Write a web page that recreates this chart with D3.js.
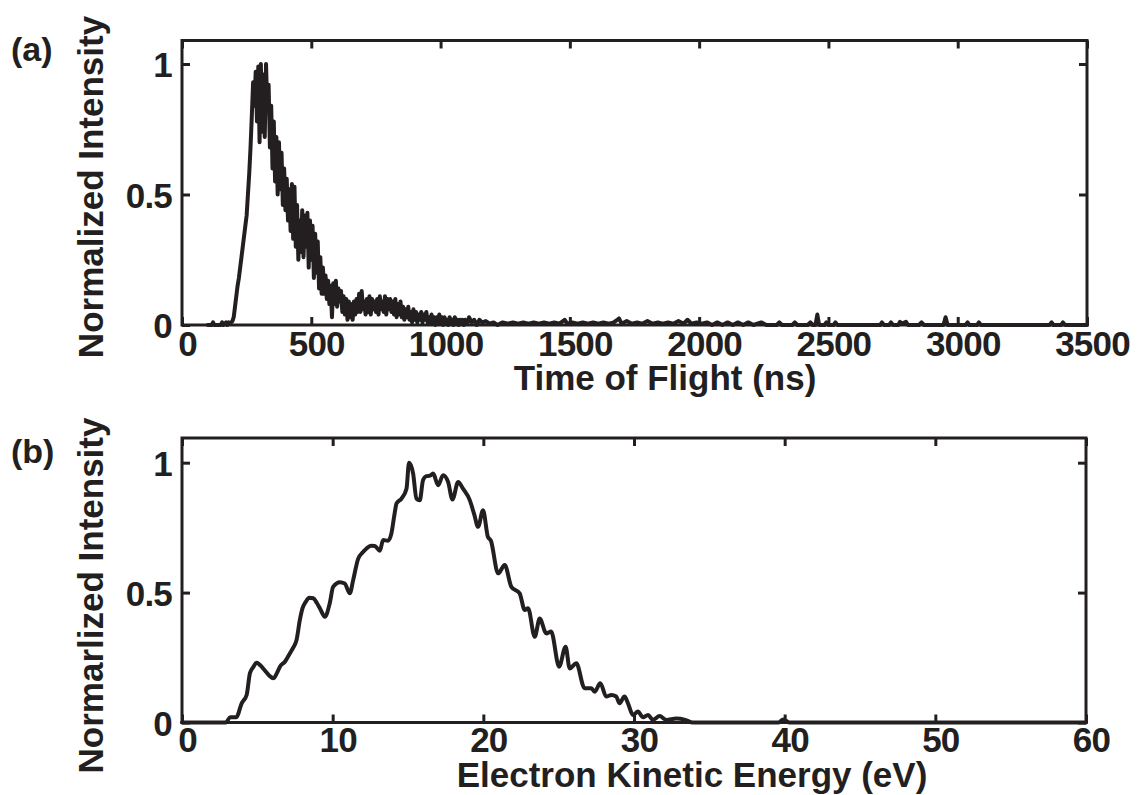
<!DOCTYPE html>
<html>
<head>
<meta charset="utf-8">
<script src="https://cdn.jsdelivr.net/npm/d3@7"></script>
<style>
  html, body { margin: 0; padding: 0; background: #fff; }
  svg { display: block; }
</style>
</head>
<body>
<svg id="fig" width="1141" height="795"></svg>
<script>
// ---- (a) time-of-flight spectrum ----
// 5 ns histogram bins starting at 100 ns
const tofBinStart = 100;
const tofBinWidth = 5;
const tofCounts = [
  0, 0, 0, 0, 0.01, 0, 0, 0, 0, 0,
  0, 0.01, 0, 0.005, 0.01, 0, 0.01, 0.005, 0.01, 0.015,
  0.03, 0.07, 0.11, 0.15, 0.18, 0.22, 0.26, 0.3, 0.34, 0.38,
  0.42, 0.5, 0.58, 0.68, 0.8, 0.93, 0.84, 0.97, 0.78, 0.99,
  0.7, 1.0, 0.74, 0.96, 0.72, 1.0, 0.82, 0.92, 0.68, 0.84,
  0.6, 0.78, 0.55, 0.72, 0.5, 0.7, 0.52, 0.66, 0.46, 0.6,
  0.44, 0.56, 0.4, 0.52, 0.36, 0.54, 0.33, 0.53, 0.3, 0.46,
  0.25, 0.4, 0.28, 0.44, 0.26, 0.42, 0.3, 0.43, 0.22, 0.4,
  0.25, 0.38, 0.18, 0.35, 0.2, 0.32, 0.14, 0.26, 0.12, 0.22,
  0.12, 0.19, 0.1, 0.17, 0.08, 0.15, 0.03, 0.16, 0.08, 0.17,
  0.07, 0.14, 0.09, 0.13, 0.05, 0.11, 0.04, 0.1, 0.02, 0.09,
  0.03, 0.08, 0.02, 0.09, 0.04, 0.1, 0.05, 0.12, 0.05, 0.13,
  0.06, 0.09, 0.04, 0.1, 0.05, 0.11, 0.04, 0.1, 0.06, 0.09,
  0.05, 0.1, 0.04, 0.11, 0.06, 0.09, 0.05, 0.11, 0.04, 0.1,
  0.06, 0.1, 0.05, 0.09, 0.04, 0.1, 0.03, 0.08, 0.04, 0.09,
  0.03, 0.07, 0.02, 0.06, 0.03, 0.07, 0.02, 0.05, 0.01, 0.06,
  0.02, 0.05, 0.01, 0.04, 0.02, 0.05, 0.01, 0.04, 0.02, 0.05,
  0.01, 0.03, 0.01, 0.04, 0.01, 0.03, 0.0, 0.03, 0.01, 0.04,
  0.01, 0.03, 0.0, 0.03, 0.01, 0.02, 0.0, 0.03, 0.01, 0.02,
  0.0, 0.03, 0.01, 0.02, 0.0, 0.02, 0.01, 0.02, 0.0, 0.02,
  0.01
];
// sparse long-time tail: [time (ns), intensity]
const tofTail = [
  [1105,0.01],[1110,0.03],[1120,0.01],[1130,0.02],[1140,0.0],[1150,0.02],[1160,0.01],
  [1175,0.015],[1190,0.005],[1205,0.01],[1220,0.0],[1240,0.01],[1260,0.005],[1280,0.01],
  [1300,0.005],[1320,0.01],[1340,0.005],[1360,0.01],[1380,0.005],[1400,0.01],[1420,0.005],
  [1440,0.01],[1460,0.005],[1480,0.02],[1490,0.005],[1510,0.01],[1530,0.005],[1550,0.01],
  [1570,0.005],[1590,0.01],[1610,0.005],[1630,0.01],[1650,0.005],[1670,0.01],[1690,0.025],
  [1700,0.005],[1720,0.015],[1740,0.005],[1760,0.01],[1780,0.005],[1800,0.015],[1820,0.005],
  [1840,0.01],[1860,0.005],[1880,0.01],[1900,0.005],[1920,0.015],[1940,0.005],[1955,0.02],
  [1970,0.005],[1990,0.01],[2010,0.005],[2030,0.01],[2050,0],[2070,0.01],[2090,0],
  [2110,0.01],[2130,0],[2150,0.01],[2170,0],[2190,0.01],[2210,0],[2240,0.01],[2260,0],
  [2300,0],[2310,0.01],[2320,0],[2360,0],[2370,0.01],[2380,0],[2420,0],[2430,0.01],
  [2440,0],[2450,0],[2457,0.04],[2464,0],[2485,0],[2492,0.01],[2500,0],[2520,0],
  [2527,0.01],[2535,0],[2700,0],[2707,0.01],[2715,0],[2735,0],[2742,0.01],[2750,0],
  [2770,0],[2777,0.012],[2784,0.005],[2800,0.012],[2808,0],[2850,0],[2860,0.01],[2870,0],
  [2945,0],[2953,0.03],[2961,0],[3030,0],[3038,0.01],[3045,0],[3075,0],[3082,0.01],
  [3090,0],[3355,0],[3363,0.01],[3370,0],[3400,0],[3407,0.01],[3415,0],[3500,0]
];
const tofTicks = [0, 500, 1000, 1500, 2000, 2500, 3000, 3500];

// ---- (b) electron kinetic energy spectrum ----
const keEnergy = [
  0, 2.9, 3.2, 3.6, 3.96, 4.29, 4.51, 4.75, 4.95, 5.2,
  5.5, 5.8, 6.06, 6.3, 6.5, 6.83, 7.16, 7.4, 7.6, 7.82,
  8.0, 8.22, 8.45, 8.71, 8.95, 9.15, 9.48, 9.81, 10.03, 10.48,
  10.8, 11.14, 11.36, 11.69, 12.0, 12.25, 12.55, 12.8, 13.13, 13.35,
  13.68, 13.9, 14.1, 14.24, 14.57, 14.9, 15.07, 15.34, 15.56, 15.78,
  16.0, 16.22, 16.45, 16.67, 17.0, 17.33, 17.66, 17.95, 18.33, 18.65,
  19.1, 19.4, 19.65, 19.98, 20.3, 20.5, 20.98, 21.42, 21.86, 22.41,
  22.75, 22.97, 23.41, 23.74, 24.18, 24.5, 25.03, 25.46, 25.73, 26.17,
  26.72, 27.17, 27.39, 27.76, 28.16, 28.5, 28.82, 29.04, 29.37, 29.6,
  29.93, 30.26, 30.6, 30.93, 31.25, 31.7, 32.14, 32.8, 33.4, 33.9,
  39.6, 39.9, 40.3, 60
];
const keIntensity = [
  0, 0, 0.02, 0.02, 0.074, 0.106, 0.19, 0.215, 0.23, 0.22,
  0.2, 0.18, 0.17, 0.19, 0.215, 0.234, 0.266, 0.29, 0.317, 0.394,
  0.44, 0.465, 0.48, 0.478, 0.46, 0.44, 0.407, 0.46, 0.522, 0.54,
  0.535, 0.497, 0.548, 0.63, 0.655, 0.67, 0.68, 0.679, 0.661, 0.702,
  0.7, 0.728, 0.8, 0.843, 0.862, 0.9, 1.0, 0.958, 0.862, 0.855,
  0.933, 0.948, 0.95, 0.958, 0.913, 0.952, 0.926, 0.858, 0.926, 0.9,
  0.856, 0.8, 0.753, 0.817, 0.715, 0.7, 0.574, 0.606, 0.522, 0.497,
  0.433, 0.44, 0.33, 0.4, 0.343, 0.35, 0.215, 0.292, 0.208, 0.228,
  0.132, 0.132, 0.118, 0.151, 0.1, 0.106, 0.1, 0.074, 0.1, 0.074,
  0.029, 0.042, 0.02, 0.029, 0.01, 0.025, 0.01, 0.015, 0.01, 0.0,
  0.0, 0.012, 0.0, 0
];
const energyTicks = [0, 10, 20, 30, 40, 50, 60];
const intensityTicks = [0, 0.5, 1];

// ---- drawing ----
const INK = "#231f20";
const FONT = "'Liberation Sans', Arial, Helvetica, sans-serif";
const svg = d3.select("#fig");

function styleAxis(g, withText) {
  g.select(".domain").remove();
  g.selectAll(".tick line").attr("stroke", INK).attr("stroke-width", 3);
  if (withText) {
    g.selectAll(".tick text")
      .attr("fill", INK)
      .attr("font-family", FONT)
      .attr("font-weight", "bold")
      .attr("font-size", 35)
      .attr("letter-spacing", -0.8);
  } else {
    g.selectAll(".tick text").remove();
  }
}

function drawPanel(p) {
  const x = d3.scaleLinear().domain(p.xDomain).range([p.left, p.right]);
  const y = d3.scaleLinear().domain(p.yDomain).range([p.bottom, p.top]);
  const g = svg.append("g");

  // inward ticks on all four sides
  g.append("g").attr("transform", `translate(0,${p.bottom})`)
    .call(d3.axisBottom(x).tickValues(p.xTicks).tickSize(-8).tickSizeOuter(0)
      .tickPadding(p.xTickPad).tickFormat(d3.format("")))
    .call(a => { styleAxis(a, true); a.selectAll(".tick text").attr("dx", 5); });
  g.append("g").attr("transform", `translate(0,${p.top})`)
    .call(d3.axisTop(x).tickValues(p.xTicks).tickSize(-8).tickSizeOuter(0))
    .call(a => styleAxis(a, false));
  g.append("g").attr("transform", `translate(${p.left},0)`)
    .call(d3.axisLeft(y).tickValues(intensityTicks).tickSize(-8).tickSizeOuter(0)
      .tickPadding(10).tickFormat(d3.format("")))
    .call(a => { styleAxis(a, true); a.selectAll(".tick text").attr("dy", "0.36em"); });
  g.append("g").attr("transform", `translate(${p.right},0)`)
    .call(d3.axisRight(y).tickValues(intensityTicks).tickSize(-8).tickSizeOuter(0))
    .call(a => styleAxis(a, false));

  // plot box
  g.append("rect")
    .attr("x", p.left).attr("y", p.top)
    .attr("width", p.right - p.left).attr("height", p.bottom - p.top)
    .attr("fill", "none").attr("stroke", INK).attr("stroke-width", 3);

  // trace
  const line = d3.line().x(d => x(d[0])).y(d => y(d[1])).curve(p.curve);
  g.append("path").datum(p.points)
    .attr("d", line)
    .attr("fill", "none").attr("stroke", INK)
    .attr("stroke-width", p.lineWidth)
    .attr("stroke-linejoin", "round").attr("stroke-linecap", "round");

  // titles
  const txt = (t, size) => g.append("text").text(t)
    .attr("fill", INK).attr("font-family", FONT)
    .attr("font-weight", "bold").attr("font-size", size);
  txt(p.xTitle, 35).attr("x", p.xTitleX).attr("y", p.xTitleY).attr("text-anchor", "middle");
  txt(p.yTitle, 35).attr("text-anchor", "middle")
    .attr("transform", `translate(103,${p.yTitleY}) rotate(-90)`);
  txt(p.tag, 34).attr("x", 11).attr("y", p.tagY);
}

const tofPoints = tofCounts.map((v, i) => [tofBinStart + i * tofBinWidth, v]).concat(tofTail);
const kePoints = keEnergy.map((e, i) => [e, keIntensity[i]]);

drawPanel({
  left: 182, right: 1087, top: 40.5, bottom: 325,
  xDomain: [0, 3500], yDomain: [0, 1.09], xTicks: tofTicks, xTickPad: 6,
  points: tofPoints, curve: d3.curveLinear, lineWidth: 4,
  xTitle: "Time of Flight (ns)", xTitleX: 665, xTitleY: 390,
  yTitle: "Normalized Intensity", yTitleY: 187,
  tag: "(a)", tagY: 61
});

drawPanel({
  left: 182, right: 1086, top: 438, bottom: 722.5,
  xDomain: [0, 60], yDomain: [0, 1.095], xTicks: energyTicks, xTickPad: 5,
  points: kePoints, curve: d3.curveMonotoneX, lineWidth: 4,
  xTitle: "Electron Kinetic Energy (eV)", xTitleX: 692, xTitleY: 787,
  yTitle: "Normarlized Intensity", yTitleY: 595.5,
  tag: "(b)", tagY: 463
});
</script>
</body>
</html>
